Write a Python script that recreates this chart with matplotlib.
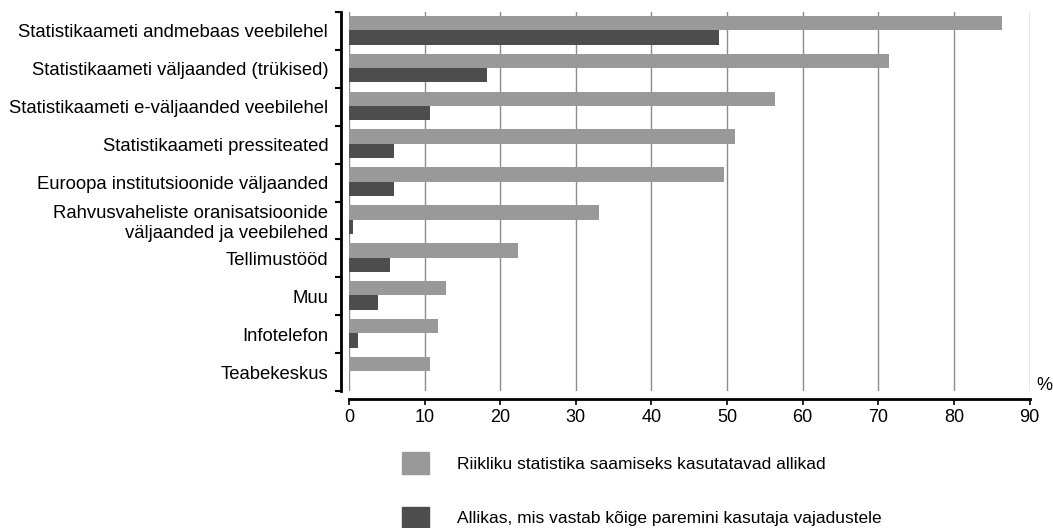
import matplotlib.pyplot as plt
from matplotlib.patches import Patch
import numpy as np

plt.rcParams['font.family'] = ['Liberation Sans', 'DejaVu Sans']

sources = [
    "Statistikaameti andmebaas veebilehel",
    "Statistikaameti väljaanded (trükised)",
    "Statistikaameti e-väljaanded veebilehel",
    "Statistikaameti pressiteated",
    "Euroopa institutsioonide väljaanded",
    "Rahvusvaheliste oranisatsioonide\nväljaanded ja veebilehed",
    "Tellimustööd",
    "Muu",
    "Infotelefon",
    "Teabekeskus",
]
used = [86.3, 71.4, 56.4, 51.1, 49.6, 33.1, 22.3, 12.8, 11.8, 10.7]
best = [48.9, 18.2, 10.7, 5.9, 5.9, 0.5, 5.4, 3.8, 1.2, 0.0]

legend_labels = [
    "Riikliku statistika saamiseks kasutatavad allikad",
    "Allikas, mis vastab kõige paremini kasutaja vajadustele",
]
light = '#999999'
dark = '#4d4d4d'

fig = plt.figure(figsize=(10.53, 5.28), dpi=100)
ax = fig.add_axes([349 / 1053, 1 - 391 / 528, (1029.5 - 349) / 1053, 379 / 528])

y = np.arange(len(sources))
h = 0.38
ax.barh(y + 0.5 - h / 2 - 0.02, used, height=h, color=light, zorder=2)
ax.barh(y + 0.5 + h / 2 - 0.02, best, height=h, color=dark, zorder=2)

ax.set_xlim(0, 90)
ax.set_ylim(len(sources), 0)
ax.set_xticks(range(0, 91, 10))
ax.grid(axis='x', color='#8c8c8c', linewidth=1, zorder=0)
for line in ax.get_xgridlines():
    line.set_clip_on(False)

# category boundaries get the tick marks, names sit at the centres
ax.set_yticks(np.arange(len(sources) + 1))
ax.set_yticklabels([])
ax.set_yticks(y + 0.5, minor=True)
ax.set_yticklabels(sources, minor=True, ha='right')
ax.tick_params(axis='y', which='minor', length=0, pad=9, labelsize=13.3)
ax.tick_params(axis='y', which='major', length=4, width=1.5, direction='out')
ax.tick_params(axis='x', length=4, width=1.2, direction='out', labelsize=13, pad=3)

for side in ['top', 'right']:
    ax.spines[side].set_visible(False)
ax.spines['left'].set_position(('outward', 6))
ax.spines['bottom'].set_position(('outward', 6))
ax.spines['left'].set_linewidth(2)
ax.spines['bottom'].set_linewidth(2)

fig.text(1036 / 1053, 1 - 385 / 528, "%", fontsize=13, ha='left', va='center')

handles = [Patch(color=light), Patch(color=dark)]
fig.legend(handles, legend_labels, loc='upper left',
           bbox_to_anchor=(402 / 1053, 1 - 452 / 528), frameon=False,
           fontsize=12.5, handlelength=1.55, handleheight=1.55,
           handletextpad=1.6, labelspacing=1.9, borderpad=0, borderaxespad=0)

fig.savefig('out.png', dpi=100)
